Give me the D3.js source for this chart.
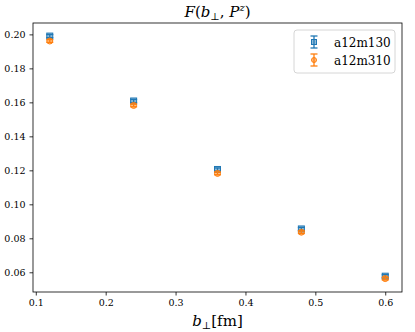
<!DOCTYPE html>
<html>
<head>
<meta charset="utf-8">
<script src="https://cdn.jsdelivr.net/npm/d3@7"></script>
<style>
  body { margin: 0; background: #fff; }
  svg text { font-family: "DejaVu Serif", serif; }
</style>
</head>
<body>
<div id="chart"></div>
<script>
// data
var bPerp = [0.12, 0.24, 0.36, 0.48, 0.60];
var a12m130 = [0.1990, 0.1608, 0.1205, 0.0855, 0.0577];
var a12m130Err = [0.0009, 0.0009, 0.0009, 0.0009, 0.0009];
var a12m310 = [0.1961, 0.1582, 0.1182, 0.0836, 0.0563];
var a12m310Err = [0.0008, 0.0008, 0.0008, 0.0008, 0.0008];
var xTicks = [0.1, 0.2, 0.3, 0.4, 0.5, 0.6];
var yTicks = [0.06, 0.08, 0.10, 0.12, 0.14, 0.16, 0.18, 0.20];

var width = 415, height = 332;
var margin = {left: 33, right: 13, top: 23, bottom: 40};

var series = [
  {name: "a12m130", y: a12m130, err: a12m130Err, color: "#1f77b4", shape: "square"},
  {name: "a12m310", y: a12m310, err: a12m310Err, color: "#ff7f0e", shape: "circle"}
];

var x = d3.scaleLinear().domain([0.096, 0.624]).range([margin.left, width - margin.right]);
var y = d3.scaleLinear().domain([0.0484, 0.2067]).range([height - margin.bottom, margin.top]);

var svg = d3.select("#chart").append("svg")
  .attr("width", width)
  .attr("height", height);

// axes
var xAxis = svg.append("g")
  .attr("transform", "translate(0," + (height - margin.bottom) + ")")
  .call(d3.axisBottom(x).tickValues(xTicks).tickFormat(d3.format(".1f")).tickSizeOuter(0).tickSize(3.5).tickPadding(4));

var yAxis = svg.append("g")
  .attr("transform", "translate(" + margin.left + ",0)")
  .call(d3.axisLeft(y).tickValues(yTicks).tickFormat(d3.format(".2f")).tickSizeOuter(0).tickSize(3.5).tickPadding(4));

[xAxis, yAxis].forEach(function(a) {
  a.attr("font-family", null);
  a.select(".domain").remove();
  a.selectAll("line").attr("stroke", "#000").attr("stroke-width", 0.8);
  a.selectAll("text").attr("font-size", 9.5).attr("fill", "#000");
});

// frame
svg.append("rect")
  .attr("x", margin.left)
  .attr("y", margin.top)
  .attr("width", width - margin.left - margin.right)
  .attr("height", height - margin.top - margin.bottom)
  .attr("fill", "none")
  .attr("stroke", "#000")
  .attr("stroke-width", 0.8);

function drawMarker(g, s, cx, cy, size) {
  if (s.shape == "square") {
    g.append("rect")
      .attr("x", cx - size / 2).attr("y", cy - size / 2)
      .attr("width", size).attr("height", size)
      .attr("fill", s.color).attr("fill-opacity", 0.5)
      .attr("stroke", s.color).attr("stroke-width", 1);
  } else {
    g.append("circle")
      .attr("cx", cx).attr("cy", cy).attr("r", size / 2)
      .attr("fill", s.color).attr("fill-opacity", 0.5)
      .attr("stroke", s.color).attr("stroke-width", 1);
  }
}

function drawErr(g, s, cx, yTop, yBot, cap) {
  g.append("line")
    .attr("x1", cx).attr("x2", cx).attr("y1", yTop).attr("y2", yBot)
    .attr("stroke", s.color).attr("stroke-width", 1.3);
  [yTop, yBot].forEach(function(yy) {
    g.append("line")
      .attr("x1", cx - cap).attr("x2", cx + cap).attr("y1", yy).attr("y2", yy)
      .attr("stroke", s.color).attr("stroke-width", 1.3);
  });
}

// points with error bars
series.forEach(function(s) {
  var g = svg.append("g").attr("class", "series");
  bPerp.forEach(function(b, i) {
    var cx = x(b), cy = y(s.y[i]);
    drawErr(g, s, cx, y(s.y[i] + s.err[i]), y(s.y[i] - s.err[i]), 3.5);
    drawMarker(g, s, cx, cy, 6);
  });
});

// title
var title = svg.append("text")
  .attr("x", (margin.left + width - margin.right) / 2)
  .attr("y", 17)
  .attr("text-anchor", "middle")
  .attr("font-size", 15);
title.append("tspan").attr("font-style", "italic").text("F");
title.append("tspan").text("(");
title.append("tspan").attr("font-style", "italic").text("b");
title.append("tspan").attr("font-size", 10).attr("dy", 3).text("⊥");
title.append("tspan").attr("dy", -3).text(", ");
title.append("tspan").attr("font-style", "italic").text("P");
title.append("tspan").attr("font-style", "italic").attr("font-size", 10).attr("dy", -6).text("z");
title.append("tspan").attr("dy", 6).text(")");

// x label
var xl = svg.append("text")
  .attr("x", (margin.left + width - margin.right) / 2)
  .attr("y", 326)
  .attr("text-anchor", "middle")
  .attr("font-size", 15);
xl.append("tspan").attr("font-style", "italic").text("b");
xl.append("tspan").attr("font-size", 10).attr("dy", 3).text("⊥");
xl.append("tspan").attr("dy", -3).text("[fm]");

// legend
var lg = svg.append("g").attr("transform", "translate(294,30)");
lg.append("rect")
  .attr("width", 101).attr("height", 43)
  .attr("rx", 3)
  .attr("fill", "#fff").attr("fill-opacity", 0.8)
  .attr("stroke", "#ccc").attr("stroke-width", 0.8);
series.forEach(function(s, i) {
  var cy = 12 + i * 18;
  drawErr(lg, s, 20, cy - 6, cy + 6, 3.5);
  drawMarker(lg, s, 20, cy, 5);
  lg.append("text")
    .attr("x", 40).attr("y", cy + 4.5)
    .attr("font-size", 12)
    .text(s.name);
});
</script>
</body>
</html>
